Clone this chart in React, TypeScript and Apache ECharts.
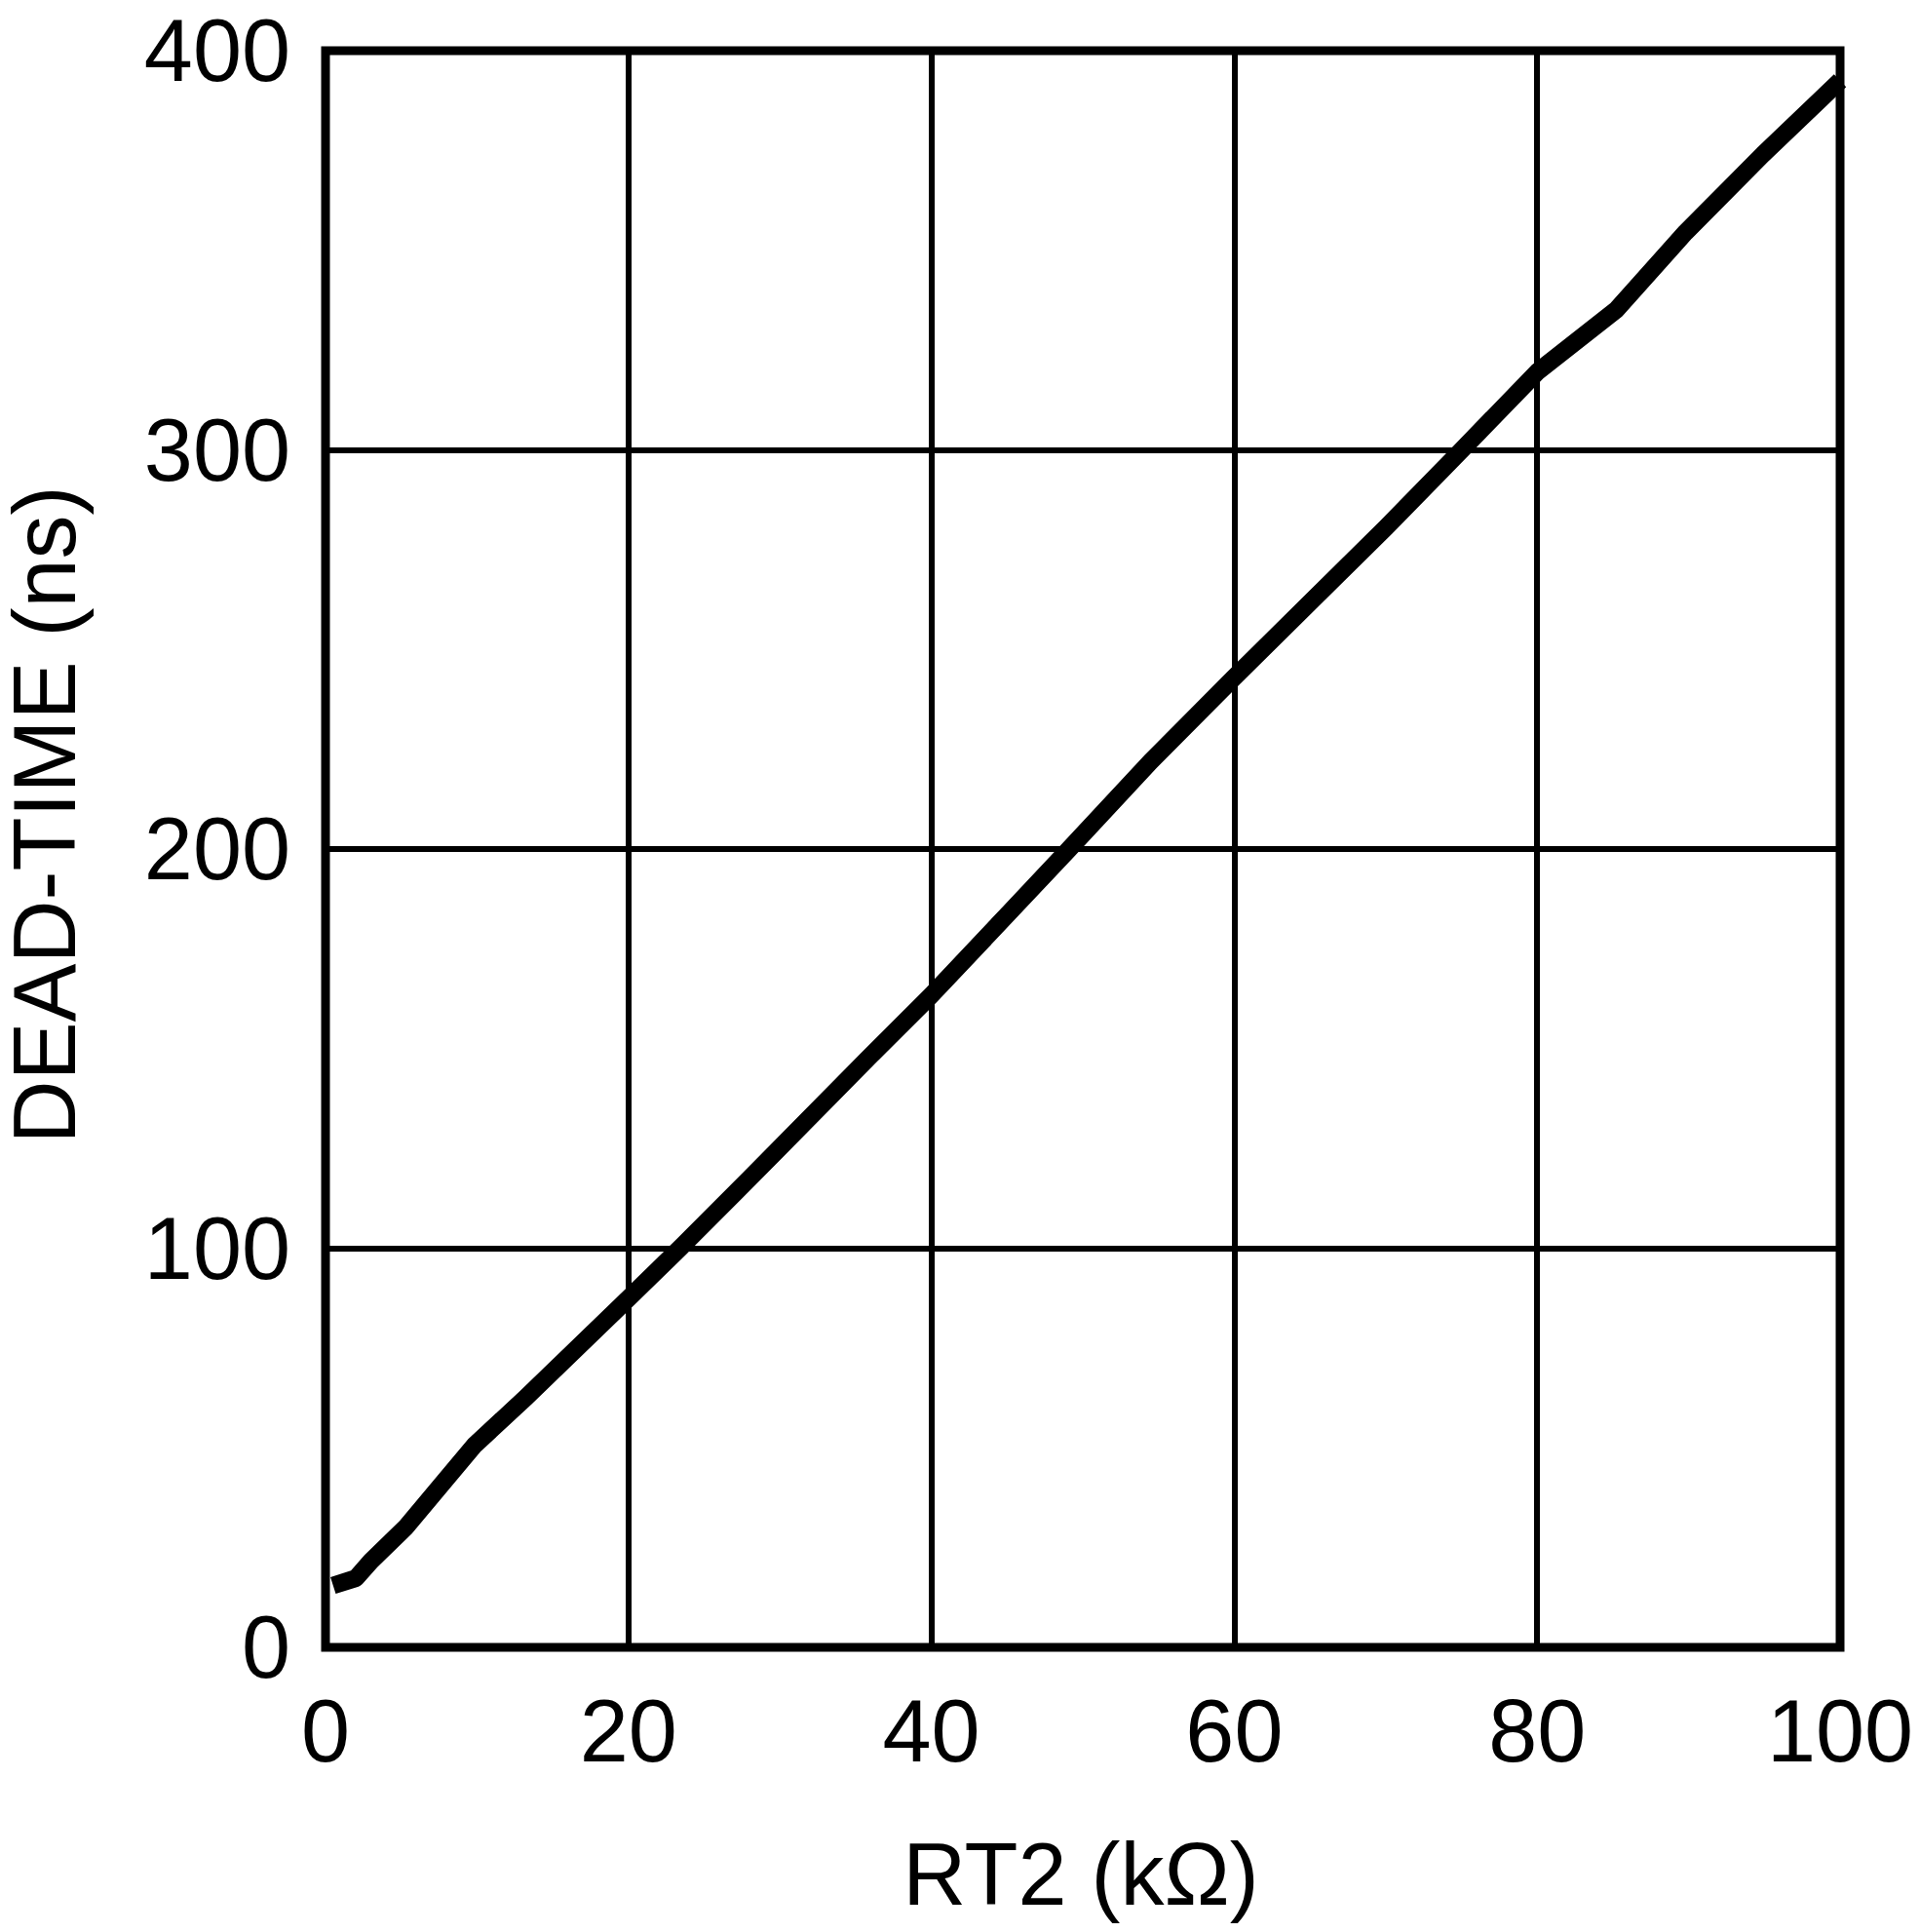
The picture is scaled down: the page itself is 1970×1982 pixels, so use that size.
import React, { useEffect, useRef } from "react";
import * as echarts from "echarts";

const xTitle = "RT2 (kΩ)";
const yTitle = "DEAD-TIME (ns)";
const rt2 = [0.5, 2.0, 3.0, 5.3, 9.8, 13.2, 20, 23.4, 29.7, 35.8, 40, 45, 49.1, 54.5, 60, 65.6, 70, 74.9, 80, 85.2, 89.8, 94.9, 100];
const deadTime = [15.5, 17.3, 21.6, 30.1, 50.5, 62.5, 87.4, 100, 124, 147.5, 163.4, 183.5, 200, 222, 243, 264, 280.5, 299.5, 319.5, 335, 354.5, 374, 392.5];
const xRange = [0, 100, 20];
const yRange = [0, 400, 100];

const FONT = "'Liberation Sans', Arial, Helvetica, sans-serif";

export default function App() {
  const ref = useRef<HTMLDivElement>(null);
  useEffect(() => {
    if (!ref.current) return;
    const chart = echarts.init(ref.current, null, { renderer: "svg" });
    const data = rt2.map((x, i) => [x, deadTime[i]]);
    chart.setOption({
      animation: false,
      backgroundColor: "#fff",
      grid: {
        left: 334,
        right: 82,
        top: 52,
        bottom: 292,
        show: true,
        borderColor: "#000",
        borderWidth: 9,
        backgroundColor: "transparent",
      },
      xAxis: {
        type: "value",
        min: xRange[0],
        max: xRange[1],
        interval: xRange[2],
        axisLine: { show: false },
        axisTick: { show: false },
        splitLine: { show: true, lineStyle: { color: "#000", width: 6 } },
        axisLabel: { fontSize: 90, color: "#000", fontFamily: FONT, margin: 41 },
      },
      yAxis: {
        type: "value",
        min: yRange[0],
        max: yRange[1],
        interval: yRange[2],
        axisLine: { show: false },
        axisTick: { show: false },
        splitLine: { show: true, lineStyle: { color: "#000", width: 6 } },
        axisLabel: { fontSize: 90, color: "#000", fontFamily: FONT, margin: 36 },
      },
      graphic: [
        {
          type: "text",
          x: 1109,
          y: 1923,
          style: {
            text: xTitle,
            fontSize: 90,
            fontFamily: FONT,
            fill: "#000",
            textAlign: "center",
            textVerticalAlign: "middle",
          },
        },
        {
          type: "text",
          x: 46,
          y: 836,
          rotation: Math.PI / 2,
          style: {
            text: yTitle,
            fontSize: 90,
            fontFamily: FONT,
            fill: "#000",
            textAlign: "center",
            textVerticalAlign: "middle",
          },
        },
      ],
      series: [
        {
          type: "line",
          data,
          showSymbol: false,
          symbol: "none",
          lineStyle: { color: "#000", width: 18, cap: "butt", join: "round" },
          clip: true,
        },
      ],
    });
    return () => chart.dispose();
  }, []);
  return (
    <div
      ref={ref}
      style={{ position: "absolute", left: 0, top: 0, width: 1970, height: 1982 }}
    />
  );
}
